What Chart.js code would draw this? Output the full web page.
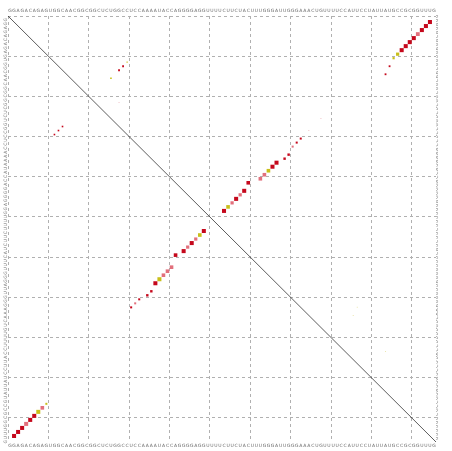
<!DOCTYPE html>
<html>
<head>
<meta charset="utf-8">
<script src="https://cdn.jsdelivr.net/npm/chart.js@4.4.1/dist/chart.umd.min.js"></script>
<style>
  html, body { margin: 0; padding: 0; background: #fff; }
  #wrap { width: 452px; height: 451px; }
</style>
</head>
<body>
<div id="wrap"><canvas id="dotplot" width="452" height="451"></canvas></div>
<script>
// Sequence shown along all four sides
const sequence = "GGAGACAGAGUGGCAACGGCGGCUCUGGCCUCCAAAAUACCAGGGGAGGUUUUCUUCUACUUUGGGAUUGGGAAACUGUUUUCCAUUCCUAUUAUGCCGCGGUUUG".split("");
const N = sequence.length;

// Pair probabilities (upper triangle): i, j, box size (0-1), colour class
const probI = [2, 3, 4, 5, 6, 7, 8, 9, 10, 11, 13, 15,
  12, 13, 14, 16,
  49, 48, 47, 46, 45, 44, 42, 41, 40, 39, 38, 37, 36, 35, 33, 32, 31,
  22, 26, 29, 75, 73, 84];
const probJ = [105, 104, 103, 102, 101, 100, 99, 98, 97, 96, 95, 94,
  30, 29, 28, 26,
  54, 55, 56, 57, 58, 59, 60, 63, 64, 65, 66, 67, 69, 70, 71, 72, 73,
  28, 78, 75, 86, 87, 94];
const probSize = [1, 1, 1, 0.95, 1, 1, 1, 1, 0.8, 0.55, 0.45, 0.45,
  0.3, 0.45, 0.45, 0.4,
  1, 0.9, 0.8, 1, 0.8, 1, 0.9, 0.9, 0.9, 0.9, 1, 1, 0.6, 0.6, 0.5, 0.5, 0.5,
  0.25, 0.25, 0.25, 0.25, 0.25, 0.25];
const probColor = ["red", "red", "red", "pink", "red", "red", "red", "red", "yellow", "yellow", "red", "red",
  "yellow", "red", "red", "yellow",
  "red", "yellow", "pink", "red", "pink", "red", "red", "pink", "pink", "yellow", "red", "red", "red", "red", "pink", "red", "red",
  "palePink", "palePink", "palePink", "paleYellow", "paleYellow", "paleYellow"];

// MFE structure (lower triangle)
const mfeI = [2, 3, 4, 5, 6, 7, 8, 9, 10,
  12, 13, 14,
  31, 32, 33, 35, 36, 37, 38, 39, 40, 41, 42, 44, 45, 46, 47, 48, 49];
const mfeJ = [105, 104, 103, 102, 101, 100, 99, 98, 97,
  30, 29, 28,
  73, 72, 71, 70, 69, 67, 66, 65, 64, 63, 60, 59, 58, 57, 56, 55, 54];
const mfeSize = [1, 1, 1, 1, 1, 1, 1, 0.9, 0.5,
  0.4, 0.4, 0.4,
  0.5, 0.5, 0.5, 0.6, 0.6, 1, 1, 0.9, 0.9, 0.9, 0.9, 1, 0.8, 1, 0.8, 0.9, 1];
const mfeColor = ["red", "red", "red", "pink", "red", "red", "yellow", "pink", "yellow",
  "red", "red", "red",
  "red", "pink", "red", "red", "red", "red", "yellow", "pink", "pink", "pink", "red", "red", "pink", "red", "pink", "yellow", "red"];

const palette = {
  red: "#c5081c",
  pink: "#e2707c",
  yellow: "#c9bf1a",
  palePink: "#f0c4ca",
  paleYellow: "#ebe7b0"
};

const CELL = 4.03;
const isGridValue = v => Math.abs(((v - 0.5) % 10)) < 1e-9 && v < N;

function seqTicks(scale) {
  const t = [];
  for (let v = 0.5; v <= N + 0.5; v += 0.5) t.push({ value: v });
  scale.ticks = t;
}
const seqLabel = v => Number.isInteger(v) ? sequence[v - 1] : "";

function axis(position, size, withGrid, rotation, padding) {
  const horizontal = position === "top" || position === "bottom";
  return {
    type: "linear",
    position: position,
    reverse: !horizontal,
    min: 0.5,
    max: N + 0.5,
    afterBuildTicks: seqTicks,
    afterFit: s => { if (horizontal) s.height = size; else s.width = size; },
    ticks: {
      autoSkip: false,
      minRotation: rotation,
      maxRotation: rotation,
      padding: padding,
      color: "#6a6a6a",
      font: { size: 4.5, family: "DejaVu Sans" },
      callback: seqLabel
    },
    grid: {
      display: withGrid,
      drawTicks: false,
      lineWidth: 1,
      color: ctx => isGridValue(ctx.tick.value) ? "#b0b0b0" : "rgba(0,0,0,0)"
    },
    border: { display: false, dash: [3, 3] }
  };
}

function pointsOf(rows, cols) {
  return rows.map((r, k) => ({ x: cols[k], y: r }));
}

new Chart(document.getElementById("dotplot"), {
  type: "scatter",
  data: {
    datasets: [
      {
        label: "diagonal",
        type: "line",
        data: [{ x: 0.5, y: 0.5 }, { x: N + 0.5, y: N + 0.5 }],
        borderColor: "#333",
        borderWidth: 0.8,
        pointRadius: 0,
        xAxisID: "x",
        yAxisID: "y"
      },
      {
        label: "probabilities",
        data: pointsOf(probI, probJ),
        pointStyle: "rect",
        pointRadius: ctx => probSize[ctx.dataIndex] * CELL * Math.SQRT1_2,
        backgroundColor: ctx => palette[probColor[ctx.dataIndex]],
        borderWidth: 0,
        xAxisID: "x",
        yAxisID: "y"
      },
      {
        label: "mfe",
        data: pointsOf(mfeJ, mfeI),
        pointStyle: "rect",
        pointRadius: ctx => mfeSize[ctx.dataIndex] * CELL * Math.SQRT1_2,
        backgroundColor: ctx => palette[mfeColor[ctx.dataIndex]],
        borderWidth: 0,
        xAxisID: "x",
        yAxisID: "y"
      }
    ]
  },
  options: {
    responsive: false,
    animation: false,
    layout: { padding: 0 },
    plugins: { legend: { display: false }, tooltip: { enabled: false } },
    scales: {
      x: axis("top", 16, true, 0, 2),
      x2: axis("bottom", 9, false, 0, 1),
      y: axis("left", 8, true, 90, 2),
      y2: axis("right", 16, false, 90, 1)
    }
  }
});
</script>
</body>
</html>
